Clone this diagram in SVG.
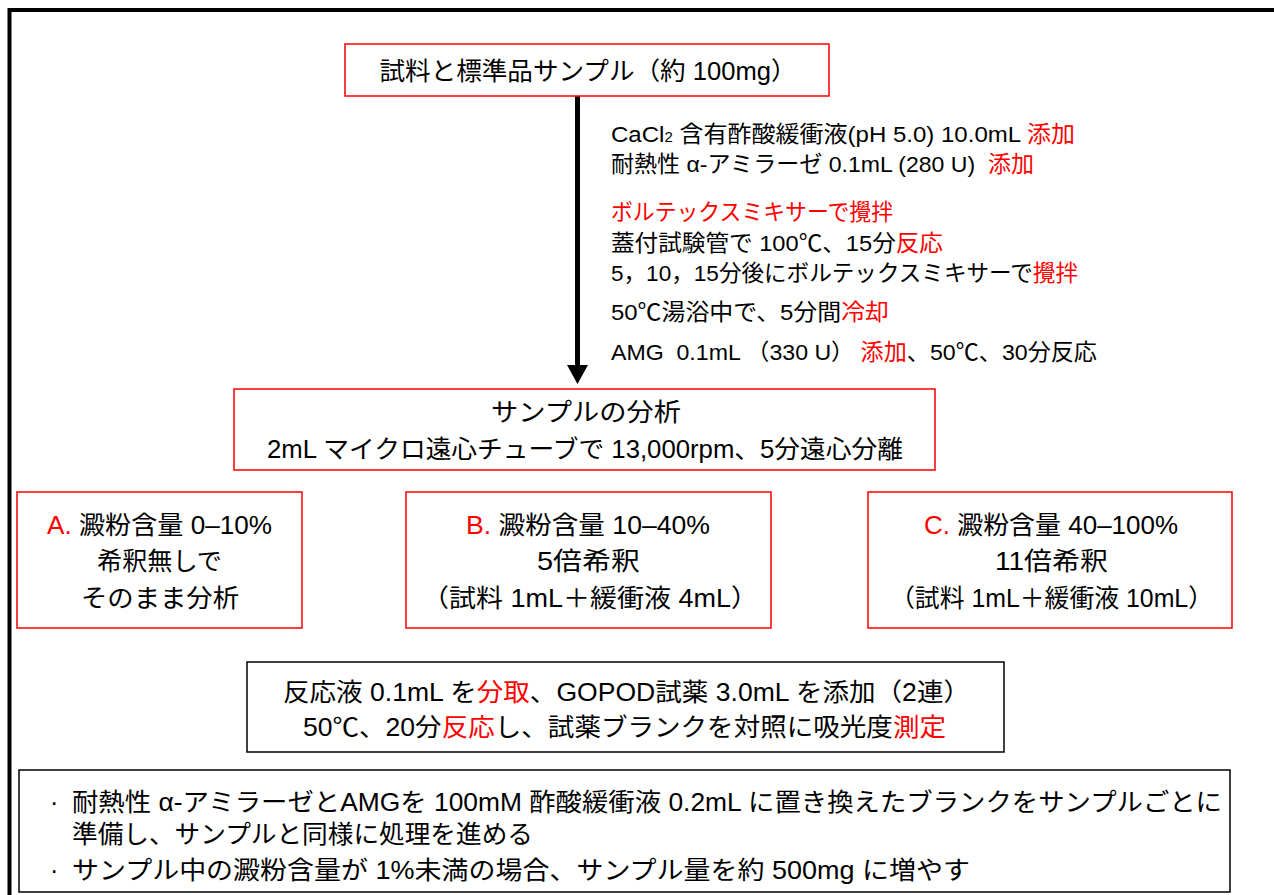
<svg xmlns="http://www.w3.org/2000/svg" width="1274" height="895" viewBox="0 0 1274 895">
<style>
text{font-family:"Liberation Sans","Noto Sans CJK JP",sans-serif;fill:#000;white-space:pre}
.bx{font-size:25px;text-anchor:middle}
.rt{font-size:22.5px}
.nt{font-size:25px}
.r{fill:#ff0000}
.rb{fill:#fff;stroke:#ff0000;stroke-width:1.5}
.kb{fill:#fff;stroke:#000;stroke-width:1.5}
</style>
<rect width="1274" height="895" fill="#fff"/>
<g id="frame">
<path d="M9.5,895 V10 H1274" fill="none" stroke="#000" stroke-width="4"/>
</g>
<g id="connectors">
<line x1="577.5" y1="96" x2="577.5" y2="366" stroke="#000" stroke-width="5"/>
<polygon points="567,365 588,365 577.5,384" fill="#000"/>
</g>
<g id="n1">
<rect class="rb" x="345" y="44" width="484" height="52"/>
<text class="bx" x="588" y="80" textLength="417" lengthAdjust="spacingAndGlyphs">試料と標準品サンプル（約 100mg）</text>
</g>
<g id="steps">
<text class="rt" x="611" y="142" textLength="464" lengthAdjust="spacingAndGlyphs">CaCl<tspan font-size="14">2</tspan> 含有酢酸緩衝液(pH 5.0) 10.0mL <tspan class="r">添加</tspan></text>
<text class="rt" x="611" y="172" textLength="423" lengthAdjust="spacingAndGlyphs">耐熱性 α-アミラーゼ 0.1mL (280 U)  <tspan class="r">添加</tspan></text>
<text class="rt r" x="611" y="220" textLength="282" lengthAdjust="spacingAndGlyphs">ボルテックスミキサーで攪拌</text>
<text class="rt" x="611" y="251" textLength="332" lengthAdjust="spacingAndGlyphs">蓋付試験管で 100℃、15分<tspan class="r">反応</tspan></text>
<text class="rt" x="611" y="281" textLength="467" lengthAdjust="spacingAndGlyphs">5，10，15分後にボルテックスミキサーで<tspan class="r">攪拌</tspan></text>
<text class="rt" x="611" y="320" textLength="278" lengthAdjust="spacingAndGlyphs">50℃湯浴中で、5分間<tspan class="r">冷却</tspan></text>
<text class="rt" x="611" y="360" textLength="486" lengthAdjust="spacingAndGlyphs">AMG  0.1mL （330 U） <tspan class="r">添加</tspan>、50℃、30分反応</text>
</g>
<g id="n2">
<rect class="rb" x="234" y="389" width="701" height="81"/>
<text class="bx" x="586" y="421" textLength="190" lengthAdjust="spacingAndGlyphs">サンプルの分析</text>
<text class="bx" x="585" y="458" textLength="636" lengthAdjust="spacingAndGlyphs">2mL マイクロ遠心チューブで 13,000rpm、5分遠心分離</text>
</g>
<g id="nA">
<rect class="rb" x="17" y="492" width="285" height="136"/>
<text class="bx" x="159.5" y="534" textLength="225" lengthAdjust="spacingAndGlyphs"><tspan class="r">A.</tspan> 澱粉含量 0–10%</text>
<text class="bx" x="159.5" y="570" textLength="125" lengthAdjust="spacingAndGlyphs">希釈無しで</text>
<text class="bx" x="160" y="607" textLength="158" lengthAdjust="spacingAndGlyphs">そのまま分析</text>
</g>
<g id="nB">
<rect class="rb" x="406" y="492" width="365" height="136"/>
<text class="bx" x="588" y="534" textLength="244" lengthAdjust="spacingAndGlyphs"><tspan class="r">B.</tspan> 澱粉含量 10–40%</text>
<text class="bx" x="588.5" y="570" textLength="103" lengthAdjust="spacingAndGlyphs">5倍希釈</text>
<text class="bx" x="590" y="607" textLength="336" lengthAdjust="spacingAndGlyphs">（試料 1mL＋緩衝液 4mL）</text>
</g>
<g id="nC">
<rect class="rb" x="868" y="492" width="364" height="136"/>
<text class="bx" x="1051" y="534" textLength="254" lengthAdjust="spacingAndGlyphs"><tspan class="r">C.</tspan> 澱粉含量 40–100%</text>
<text class="bx" x="1051.5" y="570" textLength="113" lengthAdjust="spacingAndGlyphs">11倍希釈</text>
<text class="bx" x="1051.5" y="607" textLength="323" lengthAdjust="spacingAndGlyphs">（試料 1mL＋緩衝液 10mL）</text>
</g>
<g id="nD">
<rect class="kb" x="247" y="662" width="757" height="90"/>
<text class="bx" x="626.5" y="701" textLength="687" lengthAdjust="spacingAndGlyphs">反応液 0.1mL を<tspan class="r">分取</tspan>、GOPOD試薬 3.0mL を添加（2連）</text>
<text class="bx" x="624.5" y="736" textLength="643" lengthAdjust="spacingAndGlyphs">50℃、20分<tspan class="r">反応</tspan>し、試薬ブランクを対照に吸光度<tspan class="r">測定</tspan></text>
</g>
<g id="nE">
<rect class="kb" x="19" y="770" width="1211" height="122"/>
<text class="nt" x="50" y="811">·</text>
<text class="nt" x="72" y="811" textLength="1150" lengthAdjust="spacingAndGlyphs">耐熱性 α-アミラーゼとAMGを 100mM 酢酸緩衝液 0.2mL に置き換えたブランクをサンプルごとに</text>
<text class="nt" x="72" y="843" textLength="461" lengthAdjust="spacingAndGlyphs">準備し、サンプルと同様に処理を進める</text>
<text class="nt" x="50" y="879">·</text>
<text class="nt" x="72" y="879" textLength="898" lengthAdjust="spacingAndGlyphs">サンプル中の澱粉含量が 1%未満の場合、サンプル量を約 500mg に増やす</text>
</g>
</svg>
